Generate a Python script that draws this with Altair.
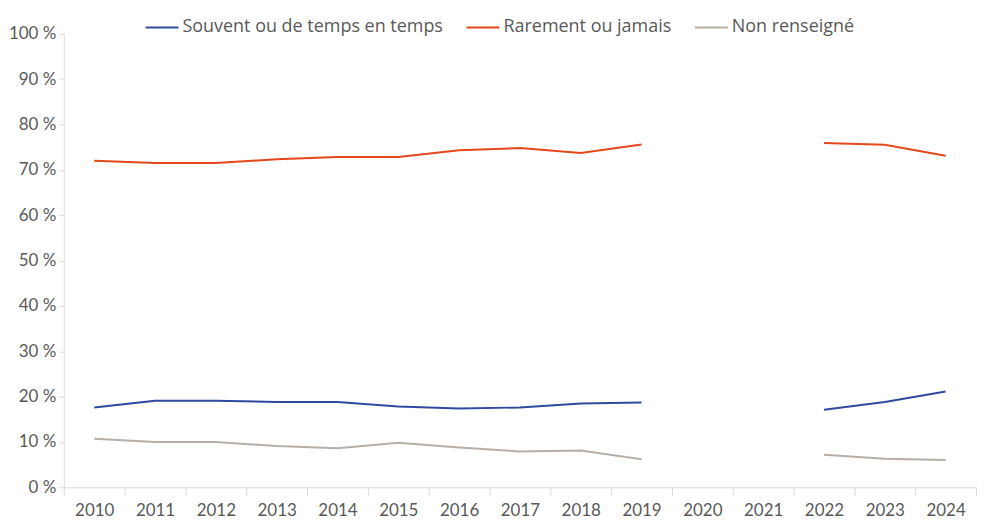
import altair as alt
import pandas as pd

years = [str(y) for y in range(2010, 2025)]
souvent = [17.6, 19.1, 19.1, 18.8, 18.8, 17.8, 17.4, 17.6, 18.5, 18.7, None, None, 17.1, 18.8, 21.1]
rarement = [72.0, 71.5, 71.5, 72.3, 72.8, 72.8, 74.3, 74.8, 73.7, 75.6, None, None, 75.9, 75.5, 73.1]
non_rens = [10.7, 10.0, 10.0, 9.1, 8.6, 9.8, 8.8, 7.9, 8.1, 6.2, None, None, 7.2, 6.3, 6.0]
series = ["Souvent ou de temps en temps", "Rarement ou jamais", "Non renseigné"]
colors = ["#2e4a9e", "#e4471c", "#b8aea6"]

rows = []
for name, vals in zip(series, [souvent, rarement, non_rens]):
    for y, v in zip(years, vals):
        if v is None:
            continue
        rows.append({"annee": y, "valeur": v, "serie": name,
                     "segment": name + ("_a" if int(y) < 2020 else "_b")})
df = pd.DataFrame(rows)

FONT = "Lato"
LFONT = "Open Sans"
GRAY = "#d9d9d9"
TXT = "#595959"

chart = alt.Chart(df).mark_line(strokeWidth=2).encode(
    x=alt.X("annee:O", bandPosition=0.5,
            scale=alt.Scale(type="band", domain=years, paddingInner=0, paddingOuter=0),
            axis=alt.Axis(title=None, labelAngle=0, tickBand="extent", tickSize=8,
                          tickColor=GRAY, domainColor=GRAY, labelFontSize=17,
                          labelColor=TXT, labelFont=FONT, labelPadding=7)),
    y=alt.Y("valeur:Q", scale=alt.Scale(domain=[0, 100], nice=False),
            axis=alt.Axis(title=None, values=list(range(0, 101, 10)),
                          labelExpr="datum.value + ' %'", grid=False, tickSize=5,
                          tickColor=GRAY, domainColor=GRAY, labelFontSize=17,
                          labelColor=TXT, labelFont=FONT, labelPadding=3)),
    color=alt.Color("serie:N", scale=alt.Scale(domain=series, range=colors),
                    legend=alt.Legend(title=None, orient="none", direction="horizontal",
                                      legendX=81, legendY=-24, symbolType="stroke",
                                      symbolSize=1089, symbolStrokeWidth=2,
                                      labelFontSize=18, labelFont=LFONT, labelColor=TXT,
                                      labelLimit=0, labelOffset=3, columnPadding=19,
                                      padding=0)),
    detail="segment:N",
).properties(
    width=915, height=455,
    padding={"left": 0, "top": 1, "right": 0, "bottom": 0},
).configure_view(stroke=None)

chart.save("out.html", embed_options={"renderer": "svg", "actions": False})
